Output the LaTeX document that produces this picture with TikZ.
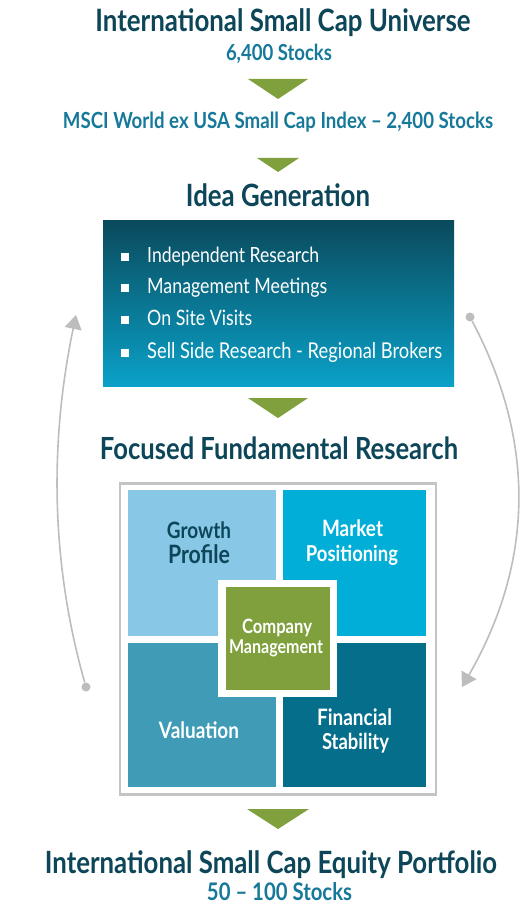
\documentclass[tikz,border=0pt]{standalone}
\usepackage{fontspec}
\setmainfont{Lato}[FakeStretch=0.84]
\usetikzlibrary{arrows.meta}
\definecolor{ttl}{HTML}{0C4658}
\definecolor{sub}{HTML}{17799A}
\definecolor{grn}{HTML}{7FA03C}
\definecolor{qa}{HTML}{89C7E7}
\definecolor{qb}{HTML}{00AED7}
\definecolor{qc}{HTML}{3F9BB6}
\definecolor{qd}{HTML}{056F8B}
\definecolor{arcg}{HTML}{BDBDBD}
\definecolor{gtop}{HTML}{0A4A5C}
\definecolor{gbot}{HTML}{0AA1C8}
\definecolor{frm}{HTML}{C4C4C4}
\newcommand{\fw}[2]{\resizebox{#1pt}{!}{#2}}
\begin{document}
\begin{tikzpicture}[x=1pt,y=-1pt,
  txt/.style={inner sep=0pt, anchor=base},
  title/.style={txt, text=ttl, font=\bfseries},
  subt/.style={txt, text=sub, font=\bfseries},
  btxt/.style={inner sep=0pt, anchor=base west, text=white},
  bsq/.style={fill=white, inner sep=0pt, minimum width=8pt, minimum height=8pt},
  quad/.style={inner sep=0pt, draw=none},
  qtxt/.style={txt, font=\bfseries, text=white},
  flow/.style={fill=grn},
  dot/.style={circle, fill=arcg, inner sep=0pt, minimum size=9pt},
  arc/.style={draw=arcg, line width=1.6pt, -{Triangle[width=17pt,length=14pt]}}]
\useasboundingbox[fill=white] (0,0) rectangle (519,909);

% titles
\node[title] (t1) at (283,32) {\fw{375}{International Small Cap Universe}};
\node[subt] (s1) at (279,61) {\fw{106}{6,400 Stocks}};
\fill[flow] (248,79) -- (308,79) -- (278,99) -- cycle;
\node[subt] (s2) at (278,129) {\fw{430}{MSCI World ex USA Small Cap Index -- 2,400 Stocks}};
\fill[flow] (257,158) -- (299,158) -- (278,172) -- cycle;
\node[title] (t2) at (278,207) {\fw{184}{Idea Generation}};

% idea box
\node[inner sep=0pt, minimum width=351pt, minimum height=165pt, top color=gtop, bottom color=gbot] (idea) at (278.5,303.5) {};
\node[bsq] (b1) at (124.5,256.5) {};
\node[btxt] (l1) at (147,262) {\fw{172}{Independent Research}};
\node[bsq] (b2) at (124.5,288) {};
\node[btxt] (l2) at (147,293.5) {\fw{180}{Management Meetings}};
\node[bsq] (b3) at (124.5,320) {};
\node[btxt] (l3) at (147,325.5) {\fw{105}{On Site Visits}};
\node[bsq] (b4) at (124.5,352.5) {};
\node[btxt] (l4) at (147,358) {\fw{295}{Sell Side Research - Regional Brokers}};

\fill[flow] (248,398) -- (308,398) -- (278,418) -- cycle;
\node[title] (t3) at (279,459) {\fw{358}{Focused Fundamental Research}};

% frame
\node[draw=frm, line width=2.5pt, inner sep=0pt, minimum width=316pt, minimum height=311pt] (frame) at (278,639) {};
\node[quad, fill=qa, minimum width=148pt, minimum height=146pt] (qa) at (202,563) {};
\node[quad, fill=qb, minimum width=143pt, minimum height=146pt] (qb) at (354.5,563) {};
\node[quad, fill=qc, minimum width=148pt, minimum height=144pt] (qc) at (202,715) {};
\node[quad, fill=qd, minimum width=143pt, minimum height=144pt] (qd) at (354.5,715) {};
\node[quad, fill=white, minimum width=119pt, minimum height=117pt] (cw) at (277.5,638.5) {};
\node[quad, fill=grn, minimum width=104pt, minimum height=103pt] (cg) at (278,638.5) {};

\node[qtxt, text=ttl] (ga) at (199,538) {\fw{64}{Growth}};
\node[qtxt, text=ttl] (gb) at (199,563) {\fw{62}{Profile}};
\node[qtxt] (ma) at (352.5,536) {\fw{61}{Market}};
\node[qtxt] (mb) at (352,561) {\fw{92}{Positioning}};
\node[qtxt] (va) at (199,738) {\fw{80}{Valuation}};
\node[qtxt] (fa) at (354.5,725) {\fw{75}{Financial}};
\node[qtxt] (fb) at (355.5,749) {\fw{67}{Stability}};
\node[qtxt] (ca) at (277,633) {\fw{70}{Company}};
\node[qtxt] (cb) at (276,653) {\fw{94}{Management}};

\fill[flow] (247,809) -- (309,809) -- (278,829) -- cycle;
\node[title] (t4) at (271,873) {\fw{452}{International Small Cap Equity Portfolio}};
\node[subt] (s4) at (279.5,900) {\fw{145}{50 -- 100 Stocks}};

% cycle arcs
\node[dot] (ldot) at (86,687) {};
\coordinate (ltip) at (76,315);
\draw[arc] (ldot) .. controls (50,560) and (50,440) .. (ltip);
\node[dot] (rdot) at (470,317) {};
\coordinate (rtip) at (462,687);
\draw[arc] (rdot) .. controls (535,440) and (535,560) .. (rtip);
\end{tikzpicture}
\end{document}
